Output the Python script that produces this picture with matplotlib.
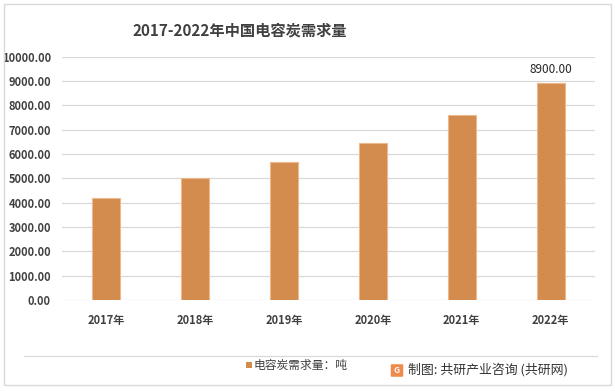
import matplotlib
import matplotlib.pyplot as plt
import numpy as np
from matplotlib.patches import Rectangle, FancyBboxPatch
from matplotlib.lines import Line2D

plt.rcParams['font.family'] = ['Noto Sans CJK SC', 'DejaVu Sans']

years = ["2017年", "2018年", "2019年", "2020年", "2021年", "2022年"]
demand = [4200, 5030, 5660, 6460, 7600, 8900]

title = "2017-2022年中国电容炭需求量"
legend_label = "电容炭需求量：吨"
source = "制图: 共研产业咨询 (共研网)"

bar_color = '#D38B4E'
edge_color = '#EDB98C'
grid_color = '#D9D9D9'
text_color = '#404040'

fig = plt.figure(figsize=(6.15, 3.91), dpi=100)
ax = fig.add_axes([62/615, 91/391, 533/615, 243.3/391])

x = np.arange(len(years))
ax.bar(x, demand, width=0.315, color=bar_color, edgecolor=edge_color, linewidth=0.8, zorder=3)
ax.set_xlim(-0.5, len(years) - 0.5)
ax.set_ylim(0, 10000)
ax.set_yticks(np.arange(0, 10001, 1000))
ax.set_yticklabels([f"{v:.2f}" for v in np.arange(0, 10001, 1000)])
ax.set_xticks(x)
ax.set_xticklabels(years)
ax.grid(axis='y', color=grid_color, linewidth=0.9, zorder=0)
for s in ax.spines.values():
    s.set_visible(False)
ax.tick_params(length=0, labelsize=8, labelcolor=text_color)
ax.tick_params(axis='x', pad=10)
ax.tick_params(axis='y', pad=8)
for lab in ax.get_xticklabels() + ax.get_yticklabels():
    lab.set_fontweight('bold')

# label on last bar
ax.text(x[-1], demand[-1] + 300, f"{demand[-1]:.2f}", ha='center', va='bottom',
        fontsize=8.5, color='#262626')

# title
fig.text(240/615, 1 - 31/391, title, ha='center', va='center', fontsize=11,
         fontweight='bold', color=text_color)

# outer border and separator
fig.add_artist(Rectangle((4/615, 6/391), 607/615, 381/391, transform=fig.transFigure,
                         fill=False, edgecolor='#D9D9D9', linewidth=1.0))
fig.add_artist(Line2D([24/615, 597/615], [1 - 356/391, 1 - 356/391],
                      transform=fig.transFigure, color='#D9D9D9', linewidth=0.9))

# legend
fig.add_artist(Rectangle((246/615, 1 - 368/391), 6/615, 6/391, transform=fig.transFigure,
                         facecolor=bar_color, edgecolor='none'))
fig.text(254/615, 1 - 365/391, legend_label, ha='left', va='center', fontsize=8.5,
         color=text_color)

# source with logo
fig.add_artist(FancyBboxPatch((392/615, 1 - 376/391), 10/615, 11/391,
                              boxstyle='round,pad=0.002', transform=fig.transFigure,
                              facecolor='#F08A4B', edgecolor='none'))
fig.text(397/615, 1 - 370.5/391, "G", ha='center', va='center', fontsize=6,
         color='white', fontweight='bold')
fig.text(408/615, 1 - 370/391, source, ha='left', va='center', fontsize=9.3,
         color='#333333')

fig.savefig('out.png', dpi=100)
